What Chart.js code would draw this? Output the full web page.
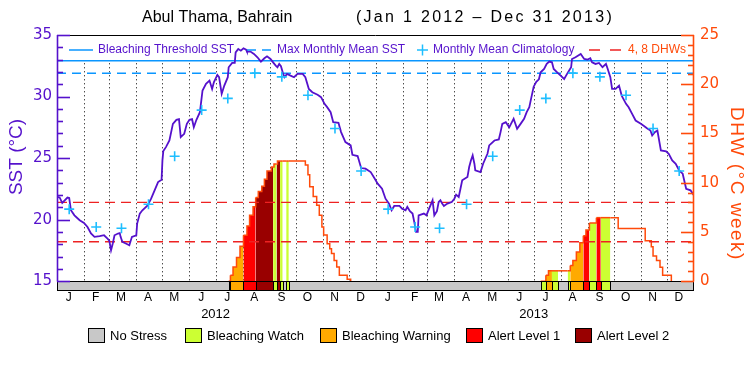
<!DOCTYPE html>
<html>
<head>
<meta charset="utf-8">
<script src="https://cdn.jsdelivr.net/npm/chart.js@4.4.0/dist/chart.umd.min.js"></script>
<style>
  html, body { margin: 0; padding: 0; background: #fff; }
</style>
</head>
<body>
<canvas id="chart" width="750" height="375"></canvas>
<script>
(function() {
  'use strict';

  // ---- data (x = days since Jan 1 2012) ----
  const monthLetters = ['J','F','M','A','M','J','J','A','S','O','N','D'];
  const monthDays = [31,29,31,30,31,30,31,31,30,31,30,31, 31,28,31,30,31,30,31,31,30,31,30,31];
  const yearLabels = ['2012', '2013'];
  const sstTicks = [15, 20, 25, 30, 35];
  const dhwTicks = [0, 5, 10, 15, 20, 25];

  const bleachingThreshold = 32.9;
  const maxMonthlyMean = 31.9;
  const dhwLevels = [4, 8];

  const climDays = [14, 45, 74, 105, 135, 166, 196, 227, 258, 288, 319, 349,
                    380, 411, 439, 470, 500, 531, 561, 592, 623, 653, 684, 714];
  const climValues = [20.85, 19.4, 19.3, 21.25, 25.15, 28.9, 29.85, 31.9, 31.6, 30.1, 27.4, 23.95,
                      20.85, 19.4, 19.3, 21.25, 25.15, 28.9, 29.85, 31.9, 31.6, 30.1, 27.4, 23.95];

  const sstDays = [0,3,6,12,14,16,20,26,31,35,39,43,49,54,58,60,62,64,66,70,72,73,75,79,83,86,91,92,95,98,
    104,108,112,116,120,121,122,125,129,133,137,140,142,146,149,152,155,157,160,164,167,171,175,178,
    180,184,186,189,192,196,197,201,204,205,208,211,214,217,218,222,226,230,234,238,241,245,248,251,253,255,
    257,259,261,264,268,272,276,282,285,289,293,299,303,307,310,314,317,323,326,331,337,339,345,349,354,360,364,
    368,373,377,381,384,387,393,396,400,402,405,408,410,412,414,415,421,424,427,431,433,436,438,440,442,444,
    448,453,456,458,461,463,465,471,473,475,477,479,480,486,489,494,496,502,507,509,511,515,519,521,524,528,
    532,536,539,542,544,547,550,553,555,559,562,565,568,570,574,578,582,586,590,591,595,601,605,609,612,614,
    618,622,626,630,632,635,637,641,645,648,653,656,660,664,670,674,677,681,683,686,689,693,699,702,706,710,
    714,718,722,727,731];
  const sstValues = [21.84,21.8,21.35,21.79,21.75,20.76,20.35,19.95,19.73,19.4,18.87,18.6,18.65,18.73,18.46,18.3,17.51,18.06,18.73,18.87,18.9,18.6,18.19,18.06,17.92,18.6,18.73,19.68,20.49,20.76,
    21.16,21.7,22.38,23.05,23.24,24.81,25.57,25.89,26.43,27.78,28.11,28.16,26.7,26.97,27.78,28.11,28.16,27.51,28.11,28.73,30.49,31.03,31.3,30.62,
    31.16,31.76,31.57,30.22,30.89,31.57,32.38,32.73,32.73,33.59,33.87,33.73,33.92,33.81,33.65,33.65,33.46,33.19,32.84,33.11,33.27,33.05,32.78,32.51,32.38,32.65,
    32.46,31.97,31.57,31.84,31.7,31.57,31.84,31.84,31.57,30.62,30.35,30.14,29.95,29.41,29.14,28.73,27.92,27.86,27.11,26.3,26.03,25.27,25.16,24.19,24.14,23.86,23.4,
    22.92,22.51,21.7,21.3,20.76,21.11,21.11,20.89,20.76,21.03,20.68,20.49,19.81,19.0,19.0,20.35,20.49,20.35,20.89,21.57,20.35,20.68,21.43,21.57,21.3,21.11,
    21.3,21.43,21.7,22.03,21.84,22.51,23.19,23.46,24.27,24.81,25.22,24.54,24.0,23.86,24.54,25.35,26.03,26.43,26.51,27.11,27.78,27.92,27.51,27.78,28.19,27.38,
    27.78,28.19,28.73,29.13,29.81,30.8,31.2,31.4,31.97,32.24,32.65,32.84,32.78,32.24,31.97,31.7,31.43,31.92,32.38,33.05,33.19,33.46,33.05,33.0,33.11,32.78,
    32.65,32.73,32.38,32.65,32.24,31.57,30.62,30.62,30.89,30.08,29.41,29.13,28.59,28.05,27.78,27.59,27.43,27.24,26.84,27.11,27.24,25.62,25.54,25.35,24.81,24.54,
    24.0,23.73,22.51,22.38,21.97];

  // DHW steps; each value holds until the next day in the list
  const dhwDays = [0,197,199,202,206,210,214,218,221,225,228,231,235,238,241,246,248,249,252,253,256,259,263,266,
    285,288,290,294,298,301,304,306,310,313,315,318,321,324,333,337,
    555,561,564,568,575,586,589,592,596,600,604,607,611,619,624,635,644,675,682,684,688,692,695,705,731];
  const dhwValues = [0,0,0.6,1.45,2.4,3.55,4.65,5.6,6.7,7.55,8.5,9.1,9.65,10.35,11.2,11.6,11.6,11.9,11.9,12.2,12.2,12.2,12.2,12.2,
    11.8,10.8,9.6,8.6,7.7,6.7,5.5,4.7,3.8,3.3,2.8,2.1,1.45,0.6,0.2,0,
    0,0.6,1.05,1.05,1.05,1.05,1.6,2.1,2.95,3.9,4.6,5.2,5.9,6.45,6.45,6.45,5.35,4.1,3.5,2.55,2.1,1.4,0.6,0,0];
  // 0 no stress, 1 watch, 2 warning, 3 alert 1, 4 alert 2
  const stressLevels = [0,1,2,2,2,2,3,3,3,3,4,4,4,4,4,4,1,1,4,4,1,0,1,0,
    0,0,0,0,0,0,0,0,0,0,0,0,0,0,0,0,
    1,2,2,1,0,1,2,2,2,2,3,3,1,3,1,0,0,0,0,0,0,0,0,0,0];
  const stressNames = ['No Stress', 'Bleaching Watch', 'Bleaching Warning', 'Alert Level 1', 'Alert Level 2'];

  // ---- styles ----
  const PURPLE = '#5511cc';
  const BLUE = '#0a96ff';
  const CYAN = '#1ebeff';
  const RED = '#ee2222';
  const ORANGE = '#ff4a0a';
  const stressColors = ['#c8c8c8', '#ccff33', '#ffaa00', '#ff0000', '#990000'];
  const GRID_TOP = 32.7;
  const SANS = '"Liberation Sans", Arial, sans-serif';
  const NUM = '"DejaVu Sans", sans-serif';

  const monthStarts = [0];
  monthDays.forEach(function(n, i) { monthStarts.push(monthStarts[i] + n); });
  const lastDay = monthStarts[monthStarts.length - 1];

  function pts(xs, ys) {
    return xs.map(function(d, i) { return {x: d, y: ys[i]}; });
  }

  /* group consecutive DHW steps with the same stress level */
  function stressRuns() {
    const runs = [];
    dhwDays.forEach(function(d, i) {
      const end = i + 1 < dhwDays.length ? dhwDays[i + 1] : lastDay;
      const last = runs[runs.length - 1];
      if (last && last.level === stressLevels[i]) {
        last.end = end;
      } else {
        runs.push({start: d, end: end, level: stressLevels[i]});
      }
    });
    return runs;
  }

  function text(ctx, s, px, py, font, color, align, spacing) {
    ctx.font = font;
    ctx.fillStyle = color;
    ctx.textAlign = align || 'left';
    ctx.textBaseline = 'middle';
    ctx.letterSpacing = spacing || '0px';
    ctx.fillText(s, px, py);
    ctx.letterSpacing = '0px';
  }

  function hline(ctx, x0, x1, py, color, width, dash) {
    ctx.strokeStyle = color;
    ctx.lineWidth = width;
    ctx.setLineDash(dash || []);
    ctx.beginPath();
    ctx.moveTo(x0, py);
    ctx.lineTo(x1, py);
    ctx.stroke();
  }

  const decor = {
    id: 'decor',
    beforeDatasetsDraw(chart) {
      const {ctx, scales: {x, y, y2}} = chart;
      const top = y.getPixelForValue(GRID_TOP);
      const bot = y2.getPixelForValue(0);
      ctx.save();
      ctx.strokeStyle = '#000';
      ctx.lineWidth = 1;
      ctx.setLineDash([1, 3]);
      monthStarts.slice(1, -1).forEach(function(d) {
        const px = Math.round(x.getPixelForValue(d)) + 0.5;
        ctx.beginPath();
        ctx.moveTo(px, top);
        ctx.lineTo(px, bot);
        ctx.stroke();
      });
      ctx.restore();
    },
    afterDatasetsDraw(chart) {
      const {ctx, chartArea: a, scales: {x, y, y2}} = chart;
      const bandTop = Math.round(y2.getPixelForValue(0)) + 0.5;
      const bandBot = Math.round(y2.getPixelForValue(-1)) - 0.5;
      ctx.save();

      // stress band under the plot
      ctx.fillStyle = stressColors[0];
      ctx.fillRect(a.left, bandTop, a.right - a.left, bandBot - bandTop);
      ctx.strokeStyle = '#000';
      ctx.lineWidth = 1;
      stressRuns().forEach(function(r) {
        if (!r.level) return;
        const x0 = Math.round(x.getPixelForValue(r.start)) + 0.5;
        const x1 = Math.round(x.getPixelForValue(r.end)) + 0.5;
        ctx.fillStyle = stressColors[r.level];
        ctx.fillRect(x0, bandTop, x1 - x0, bandBot - bandTop);
        ctx.strokeRect(x0, bandTop, x1 - x0, bandBot - bandTop);
      });
      ctx.strokeRect(a.left + 0.5, bandTop, a.right - a.left - 1, bandBot - bandTop);

      // frame
      hline(ctx, a.left, a.right, Math.round(a.top) + 0.5, '#000', 1);
      ctx.strokeStyle = PURPLE;
      ctx.lineWidth = 1.6;
      ctx.beginPath();
      ctx.moveTo(a.left + 0.5, a.top);
      ctx.lineTo(a.left + 0.5, bandTop);
      ctx.stroke();
      ctx.strokeStyle = ORANGE;
      ctx.beginPath();
      ctx.moveTo(a.right - 0.5, a.top);
      ctx.lineTo(a.right - 0.5, bandTop);
      ctx.stroke();

      // inward ticks
      for (let v = sstTicks[0]; v <= sstTicks[sstTicks.length - 1]; v++) {
        const py = Math.round(y.getPixelForValue(v)) + 0.5;
        const len = sstTicks.indexOf(v) >= 0 ? 13 : 6;
        hline(ctx, a.left, a.left + len, py, PURPLE, 1.6);
      }
      for (let v = dhwTicks[0]; v <= dhwTicks[dhwTicks.length - 1]; v++) {
        const py = Math.round(y2.getPixelForValue(v)) + 0.5;
        const len = dhwTicks.indexOf(v) >= 0 ? 13 : 6;
        hline(ctx, a.right - len, a.right, py, ORANGE, 1.6);
      }
      ctx.restore();
    },
    afterDraw(chart) {
      const {ctx, chartArea: a, scales: {x, y, y2}} = chart;
      ctx.save();

      // title
      text(ctx, 'Abul Thama, Bahrain', 142, 18, '16px ' + SANS, '#000', 'left');
      text(ctx, '(Jan 1 2012 \u2013 Dec 31 2013)', 485, 18, '16px ' + SANS, '#000', 'center', '2.3px');

      // tick labels
      sstTicks.forEach(function(v) {
        text(ctx, String(v), a.left - 5, y.getPixelForValue(v), '15px ' + NUM, PURPLE, 'right');
      });
      dhwTicks.forEach(function(v) {
        text(ctx, String(v), a.right + 6, y2.getPixelForValue(v), '15px ' + NUM, ORANGE, 'left');
      });

      // month letters and years
      monthStarts.slice(0, -1).forEach(function(d, i) {
        text(ctx, monthLetters[i % 12], x.getPixelForValue(d + 13.5), 298, '12px ' + SANS, '#000', 'center');
      });
      yearLabels.forEach(function(s, i) {
        text(ctx, s, x.getPixelForValue(monthStarts[12 * i + 6]), 314, '13px ' + SANS, '#000', 'center');
      });

      // axis titles
      ctx.save();
      ctx.translate(17, 157);
      ctx.rotate(-Math.PI / 2);
      text(ctx, 'SST (\u00b0C)', 0, 0, '19px ' + SANS, PURPLE, 'center');
      ctx.restore();
      ctx.save();
      ctx.translate(736, 184);
      ctx.rotate(Math.PI / 2);
      text(ctx, 'DHW (\u00b0C week)', 0, 0, '19px ' + SANS, ORANGE, 'center', '1.5px');
      ctx.restore();

      // legend inside the plot
      const ly = 50;
      hline(ctx, 69, 93, ly, BLUE, 1.5);
      text(ctx, 'Bleaching Threshold SST', 98, ly, '12px ' + SANS, PURPLE);
      hline(ctx, 247, 271, ly, BLUE, 1.5, [9, 6]);
      text(ctx, 'Max Monthly Mean SST', 277, ly, '12px ' + SANS, PURPLE);
      hline(ctx, 417, 428, ly, CYAN, 1.5);
      ctx.beginPath();
      ctx.moveTo(422.5, ly - 5.5);
      ctx.lineTo(422.5, ly + 5.5);
      ctx.stroke();
      text(ctx, 'Monthly Mean Climatology', 433, ly, '12px ' + SANS, PURPLE);
      hline(ctx, 589, 621, ly, RED, 1.5, [11, 10]);
      text(ctx, '4, 8 DHWs', 628, ly, '12px ' + SANS, ORANGE);

      // stress legend
      const boxes = [88, 185, 320, 466, 575];
      ctx.setLineDash([]);
      boxes.forEach(function(bx, i) {
        ctx.fillStyle = stressColors[i];
        ctx.fillRect(bx + 0.5, 328.5, 16, 14);
        ctx.strokeStyle = '#000';
        ctx.lineWidth = 1;
        ctx.strokeRect(bx + 0.5, 328.5, 16, 14);
        text(ctx, stressNames[i], bx + 22, 336, '13px ' + SANS, '#000');
      });
      ctx.restore();
    }
  };

  new Chart(document.getElementById('chart'), {
    type: 'line',
    data: {
      datasets: [
        {
          label: 'DHW',
          yAxisID: 'y2',
          data: pts(dhwDays, dhwValues),
          stepped: 'before',
          borderColor: ORANGE,
          borderWidth: 1.5,
          pointRadius: 0,
          fill: {value: 0},
          backgroundColor: 'rgba(0,0,0,0)',
          segment: {
            backgroundColor: function(c) {
              const lv = stressLevels[c.p0DataIndex];
              return lv ? stressColors[lv] : 'rgba(0,0,0,0)';
            },
            borderColor: function(c) {
              return c.p0.parsed.y === 0 && c.p1.parsed.y === 0 ? 'rgba(0,0,0,0)' : ORANGE;
            }
          },
          order: 6
        },
        {
          label: '4 DHW',
          yAxisID: 'y2',
          data: pts([0, lastDay], [dhwLevels[0], dhwLevels[0]]),
          borderColor: RED, borderWidth: 1.3, borderDash: [10, 6], pointRadius: 0, order: 5
        },
        {
          label: '8 DHW',
          yAxisID: 'y2',
          data: pts([0, lastDay], [dhwLevels[1], dhwLevels[1]]),
          borderColor: RED, borderWidth: 1.3, borderDash: [10, 6], pointRadius: 0, order: 5
        },
        {
          label: 'Bleaching Threshold SST',
          yAxisID: 'y',
          data: pts([0, lastDay], [bleachingThreshold, bleachingThreshold]),
          borderColor: BLUE, borderWidth: 1.5, pointRadius: 0, order: 4
        },
        {
          label: 'Max Monthly Mean SST',
          yAxisID: 'y',
          data: pts([0, lastDay], [maxMonthlyMean, maxMonthlyMean]),
          borderColor: BLUE, borderWidth: 1.5, borderDash: [9, 6], pointRadius: 0, order: 4
        },
        {
          label: 'SST',
          yAxisID: 'y',
          data: pts(sstDays, sstValues),
          borderColor: PURPLE, borderWidth: 1.8, pointRadius: 0, order: 1
        },
        {
          label: 'Monthly Mean Climatology',
          yAxisID: 'y',
          data: pts(climDays, climValues),
          showLine: false,
          pointStyle: 'cross',
          pointRadius: 5,
          pointBorderWidth: 1.6,
          pointBorderColor: CYAN,
          borderColor: CYAN,
          order: 0
        }
      ]
    },
    options: {
      responsive: false,
      animation: false,
      events: [],
      layout: {padding: {left: 57, right: 56, top: 35, bottom: 84}},
      scales: {
        x: {type: 'linear', min: 0, max: lastDay, display: false},
        y: {type: 'linear', min: 14.2, max: 35, display: false},
        y2: {type: 'linear', min: -1, max: 25, display: false, position: 'right'}
      },
      plugins: {legend: {display: false}, tooltip: {enabled: false}}
    },
    plugins: [decor]
  });
})();
</script>
</body>
</html>
